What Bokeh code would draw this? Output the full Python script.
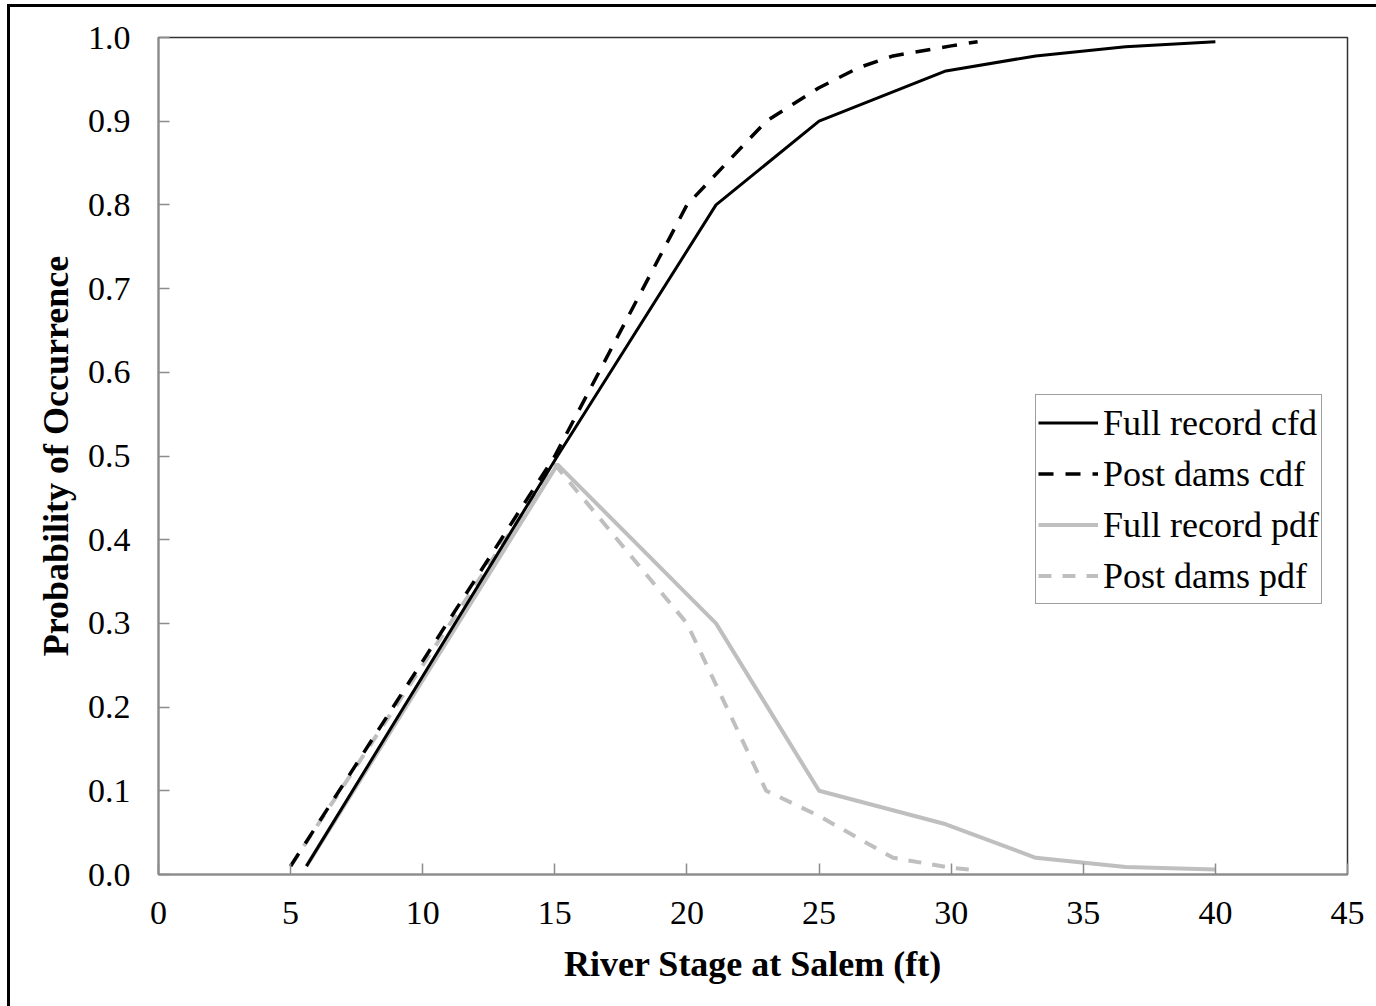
from bokeh.plotting import figure
from bokeh.models import Range1d, Legend, LegendItem, FixedTicker, NumeralTickFormatter
from bokeh.embed import file_html
from bokeh.resources import INLINE

# ---- data ----
full_x = [5.6, 15.1, 21.1, 25.0, 29.8, 33.2, 36.6, 40.0]
full_cdf = [0.01, 0.50, 0.80, 0.90, 0.96, 0.978, 0.989, 0.995]
full_pdf = [0.01, 0.49, 0.30, 0.10, 0.06, 0.02, 0.009, 0.006]

post_x = [5.0, 15.0, 20.0, 23.0, 25.0, 26.5, 27.8, 30.0, 31.0]
post_cdf = [0.01, 0.50, 0.80, 0.90, 0.94, 0.964, 0.978, 0.99, 0.995]
post_pdf = [0.01, 0.49, 0.30, 0.10, 0.07, 0.043, 0.02, 0.008, 0.005]

x_ticks = [0, 5, 10, 15, 20, 25, 30, 35, 40, 45]
y_ticks = [0.0, 0.1, 0.2, 0.3, 0.4, 0.5, 0.6, 0.7, 0.8, 0.9, 1.0]

series_names = ["Full record cfd", "Post dams cdf", "Full record pdf", "Post dams pdf"]
x_title = "River Stage at Salem (ft)"
y_title = "Probability of Occurrence"

FONT = "Liberation Serif"
GRAY = "#bfbfbf"
AX = "#8c8c8c"

p = figure(width=1366, height=999, output_backend="svg", toolbar_location=None,
           x_range=Range1d(0, 45), y_range=Range1d(0, 1),
           frame_width=1189, frame_height=837,
           min_border_left=148, min_border_top=30, min_border_right=29, min_border_bottom=132)
p.styles = {"margin-left": "7px", "margin-top": "4px",
            "border-left": "3px solid black", "border-top": "3px solid black"}

p.xgrid.visible = False
p.ygrid.visible = False
p.outline_line_color = "#333333"
p.outline_line_width = 1.5

r_fpdf = p.line(full_x, full_pdf, line_color=GRAY, line_width=4)
r_ppdf = p.line(post_x, post_pdf, line_color=GRAY, line_width=4, line_dash="13 11")
r_fcdf = p.line(full_x, full_cdf, line_color="black", line_width=3)
r_pcdf = p.line(post_x, post_cdf, line_color="black", line_width=3.5, line_dash="15 12")

for ax in (p.xaxis[0], p.yaxis[0]):
    ax.axis_line_color = AX
    ax.axis_line_width = 2
    ax.major_tick_line_color = AX
    ax.major_tick_line_width = 1.5
    ax.major_tick_in = 11
    ax.major_tick_out = 0
    ax.minor_tick_line_color = None
    ax.major_label_text_font = FONT
    ax.major_label_text_font_size = "34px"
    ax.major_label_text_color = "black"
    ax.axis_label_text_font = FONT
    ax.axis_label_text_font_style = "bold"
    ax.axis_label_text_font_size = "36px"
    ax.axis_label_text_color = "black"

p.xaxis.ticker = FixedTicker(ticks=x_ticks)
p.yaxis.ticker = FixedTicker(ticks=y_ticks)
p.yaxis.formatter = NumeralTickFormatter(format="0.0")
p.xaxis.axis_label = x_title
p.yaxis.axis_label = y_title
p.xaxis.major_label_standoff = 27
p.yaxis.major_label_standoff = 28
p.xaxis.axis_label_standoff = 17
p.yaxis.axis_label_standoff = 9

legend = Legend(items=[
    LegendItem(label=series_names[0], renderers=[r_fcdf]),
    LegendItem(label=series_names[1], renderers=[r_pcdf]),
    LegendItem(label=series_names[2], renderers=[r_fpdf]),
    LegendItem(label=series_names[3], renderers=[r_ppdf]),
], location=(877, 270))
legend.label_text_font = FONT
legend.label_text_font_size = "36px"
legend.label_text_color = "black"
legend.border_line_color = "#404040"
legend.border_line_width = 1.5
legend.background_fill_alpha = 1
legend.padding = 2
legend.spacing = 0
legend.margin = 0
legend.label_height = 51
legend.glyph_height = 51
legend.glyph_width = 60
legend.label_standoff = 5
p.add_layout(legend, "center")

open("out.html", "w").write(file_html(p, INLINE))
